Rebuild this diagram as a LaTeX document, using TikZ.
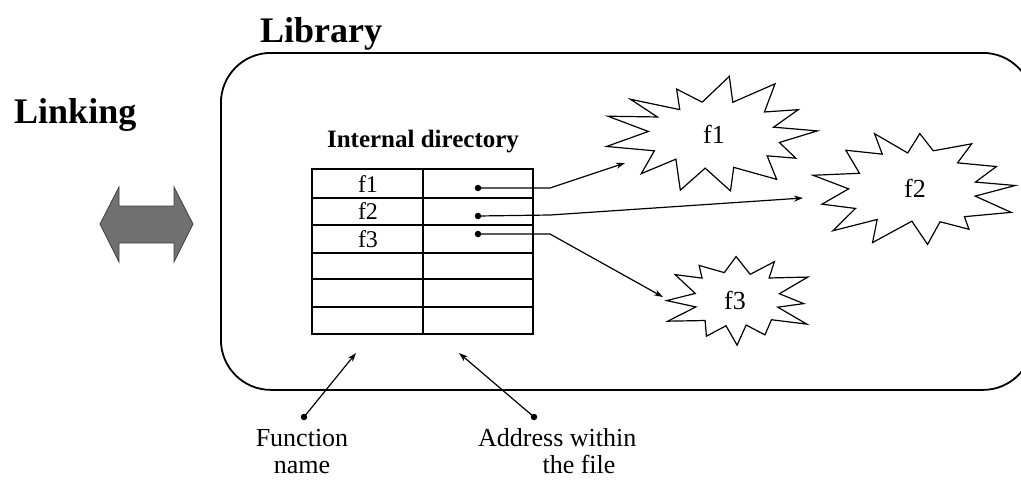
\documentclass[tikz,border=0pt]{standalone}
\usepackage{fontspec}
\setmainfont{Liberation Serif}
\usetikzlibrary{calc,arrows.meta}

\newcommand\drawburst[6]{%
  \pgfmathsetseed{#6}%
  \pgfmathtruncatemacro\nn{2*#5-1}%
  \foreach \k in {0,...,\nn}{%
    \pgfmathsetmacro\ang{\k*180/#5 + 5*rand}%
    \pgfmathsetmacro\rr{(mod(\k,2)==0 ? 1+0.13*rand : 0.62+0.07*rand)}%
    \pgfmathsetmacro\rxx{\rr*#3}%
    \pgfmathsetmacro\ryy{\rr*#4}%
    \coordinate (#1-\k) at ($(#2)+(\ang:\rxx pt and \ryy pt)$);
  }%
  \draw[starline] (#1-0) \foreach \k in {1,...,\nn}{ -- (#1-\k)} -- cycle;
}

\tikzset{
  starline/.style={line width=1.2pt, line join=miter},
  tbl/.style={line width=1.2pt},
  dot/.style={circle, fill=black, inner sep=0pt, minimum size=6.5pt},
  conn/.style={line width=1.2pt, -{Stealth[length=9pt,width=6pt]}},
  title/.style={font=\bfseries\fontsize{36}{40}\selectfont, inner sep=0pt},
  cell/.style={font=\fontsize{24}{26}\selectfont, inner sep=0pt},
  starlabel/.style={font=\fontsize{26}{28}\selectfont, inner sep=0pt},
  note/.style={font=\fontsize{26}{27}\selectfont, inner sep=0pt},
}

\begin{document}
\begin{tikzpicture}[x=1pt,y=-1pt]
\useasboundingbox (0,0) rectangle (1021,480);
\clip (0,0) rectangle (1021,480);

% library box
\node[draw, line width=1.8pt, rounded corners=50pt, minimum width=812pt, minimum height=337pt,
      anchor=north west, inner sep=0pt] (lib) at (220,52) {};

% titles
\node[title, anchor=base west] (libt) at (260,42) {Library};
\node[title, anchor=base west] (link) at (14,123) {Linking};
\node[font=\bfseries\fontsize{25}{28}\selectfont, anchor=base, inner sep=0pt] (idir) at (423,147) {Internal directory};

% double arrow
\fill[fill=black!56, draw=black!75, line width=0.8pt]
  (100,224) -- (119,187) -- (119,206) -- (174,206) -- (174,187) -- (193,224)
  -- (174,262) -- (174,243) -- (119,243) -- (119,262) -- cycle;

% table
\draw[tbl] (312,169) rectangle (533,334);
\draw[tbl] (423,169) -- (423,334);
\foreach \yy in {198,225,253,279,307} \draw[tbl] (312,\yy) -- (533,\yy);

\node[cell] (c1) at (368,184) {f1};
\node[cell] (c2) at (368,211) {f2};
\node[cell] (c3) at (368,239) {f3};

\node[dot] (b1) at (478,188) {};
\node[dot] (b2) at (478,216) {};
\node[dot] (b3) at (478,234) {};

% stars
\node[starlabel] (f1) at (714,134) {f1};
\node[starlabel] (f2) at (915,188) {f2};
\node[starlabel] (f3) at (735,300) {f3};
\drawburst{s1}{f1}{103}{54}{13}{11}
\drawburst{s2}{f2}{101}{60}{13}{5}
\drawburst{s3}{f3}{74}{45}{12}{23}

\coordinate (k1) at (550,188);
\coordinate (k2) at (550,215);
\coordinate (k3) at (550,234);
\coordinate (t1) at (625,163);
\coordinate (t2) at (803,198);
\coordinate (t3) at (663,297);

\draw[conn] (b1.center) -- (k1) -- (t1);
\draw[conn] (b2.center) -- (k2) -- (t2);
\draw[conn] (b3.center) -- (k3) -- (t3);

% bottom labels
\node[dot] (d1) at (304,417) {};
\node[dot] (d2) at (534,417) {};
\coordinate (u1) at (356,353);
\coordinate (u2) at (459,353);
\draw[conn] (d1.center) -- (u1);
\draw[conn] (d2.center) -- (u2);

\node[note, anchor=base] (fn1) at (302,446) {Function};
\node[note, anchor=base] (fn2) at (302,473) {name};
\node[note, anchor=base west] (ad1) at (478,446) {Address within};
\node[note, anchor=base] (ad2) at (579,473) {the file};
\end{tikzpicture}
\end{document}
